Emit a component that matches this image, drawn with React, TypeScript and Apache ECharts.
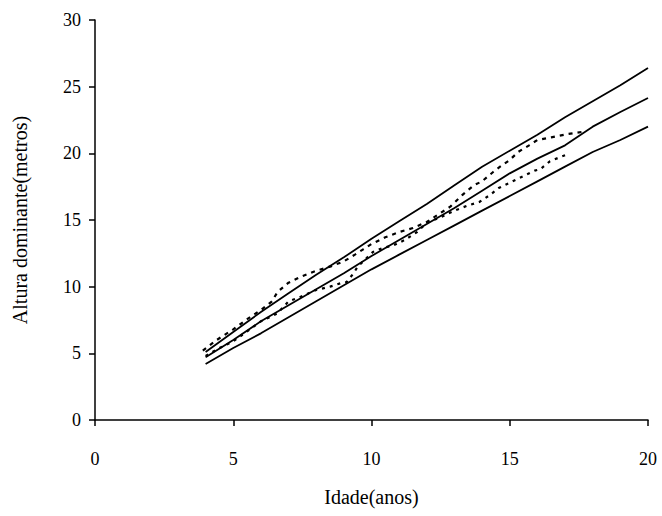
import React, { useEffect, useRef } from "react";
import * as echarts from "echarts";

const ages = [4, 5, 6, 7, 8, 9, 10, 11, 12, 13, 14, 15, 16, 17, 18, 19, 20];
const upperCurve = [5.1, 6.6, 8.1, 9.5, 10.9, 12.2, 13.6, 14.9, 16.2, 17.6, 19.0, 20.2, 21.4, 22.7, 23.9, 25.1, 26.4];
const middleCurve = [4.7, 6.0, 7.4, 8.6, 9.8, 11.0, 12.3, 13.5, 14.7, 15.9, 17.2, 18.5, 19.6, 20.6, 22.0, 23.1, 24.15];
const lowerCurve = [4.2, 5.4, 6.5, 7.7, 8.9, 10.1, 11.3, 12.4, 13.5, 14.6, 15.7, 16.8, 17.9, 19.0, 20.1, 21.0, 22.0];

const obsAAges = [3.9, 4.4, 5.0, 5.6, 6.0, 6.4, 6.6, 7.0, 7.4, 8.0, 8.5, 9.0, 9.4, 9.7, 10.0, 10.5, 11.0, 11.5, 12.0, 12.4, 12.85, 13.3, 13.7, 14.0, 14.4, 14.65, 15.0, 15.3, 15.7, 16.0, 16.5, 17.1, 17.6];
const obsAHeights = [5.2, 6.0, 6.8, 7.7, 8.25, 8.9, 9.6, 10.3, 10.7, 11.2, 11.5, 11.9, 12.4, 12.8, 13.2, 13.7, 14.1, 14.4, 14.85, 15.4, 16.0, 16.9, 17.6, 17.9, 18.6, 19.0, 19.5, 20.1, 20.6, 21.0, 21.2, 21.45, 21.6];

const obsBAges = [4.0, 4.5, 5.0, 6.0, 6.6, 7.0, 7.4, 8.0, 8.5, 8.95, 9.1, 9.35, 9.5, 9.75, 10.05, 10.4, 10.8, 11.2, 11.65, 12.0, 12.5, 13.0, 13.5, 13.9, 14.3, 14.6, 15.0, 15.5, 15.9, 16.1, 16.45, 16.8, 17.0];
const obsBHeights = [4.8, 5.4, 5.9, 7.4, 8.0, 8.9, 9.2, 9.75, 10.0, 10.3, 10.35, 11.0, 11.5, 12.0, 12.6, 12.9, 13.1, 13.5, 14.1, 14.8, 15.2, 15.7, 16.1, 16.35, 16.9, 17.4, 17.8, 18.3, 18.7, 18.8, 19.4, 19.7, 19.85];

const xTicks = { min: 0, max: 20, interval: 5 };
const yTicks = { min: 0, max: 30, interval: 5 };

const zip = (xs: number[], ys: number[]) => xs.map((x, i) => [x, ys[i]]);

export default function App() {
  const ref = useRef<HTMLDivElement>(null);
  useEffect(() => {
    if (!ref.current) return;
    const chart = echarts.init(ref.current, undefined, { renderer: "svg" });
    const font = "'Liberation Serif', 'Times New Roman', serif";
    const axisCommon = {
      type: "value" as const,
      axisLine: { show: true, lineStyle: { color: "#000", width: 1.5 } },
      axisTick: { show: true, inside: false, length: 6, lineStyle: { color: "#000", width: 1.5 } },
      splitLine: { show: false },
      nameLocation: "middle" as const,
      nameTextStyle: { color: "#000", fontFamily: font, fontSize: 20 },
    };
    const solid = (data: number[]) => ({
      type: "line" as const,
      data: zip(ages, data),
      symbol: "none",
      lineStyle: { color: "#000", width: 1.8, type: "solid" as const },
    });
    const dashed = (xs: number[], ys: number[], dash: number[]) => ({
      type: "line" as const,
      data: zip(xs, ys),
      symbol: "none",
      lineStyle: { color: "#000", width: 2.2, type: dash },
    });
    chart.setOption({
      animation: false,
      backgroundColor: "#fff",
      grid: { left: 95, right: 14, top: 20, bottom: 96, containLabel: false, outerBoundsMode: "none" },
      xAxis: {
        ...axisCommon,
        ...xTicks,
        name: "Idade(anos)",
        nameGap: 67,
        axisLabel: { color: "#000", fontFamily: font, fontSize: 18, margin: 30 },
      },
      yAxis: {
        ...axisCommon,
        ...yTicks,
        name: "Altura dominante(metros)",
        nameGap: 65,
        axisLabel: { color: "#000", fontFamily: font, fontSize: 18, margin: 14 },
      },
      series: [
        solid(upperCurve),
        solid(middleCurve),
        solid(lowerCurve),
        dashed(obsAAges, obsAHeights, [4, 5]),
        dashed(obsBAges, obsBHeights, [3, 5]),
      ],
    });
    return () => chart.dispose();
  }, []);
  return (
    <div
      ref={ref}
      style={{ position: "fixed", left: 0, top: 0, width: 662, height: 516, background: "#fff" }}
    />
  );
}
